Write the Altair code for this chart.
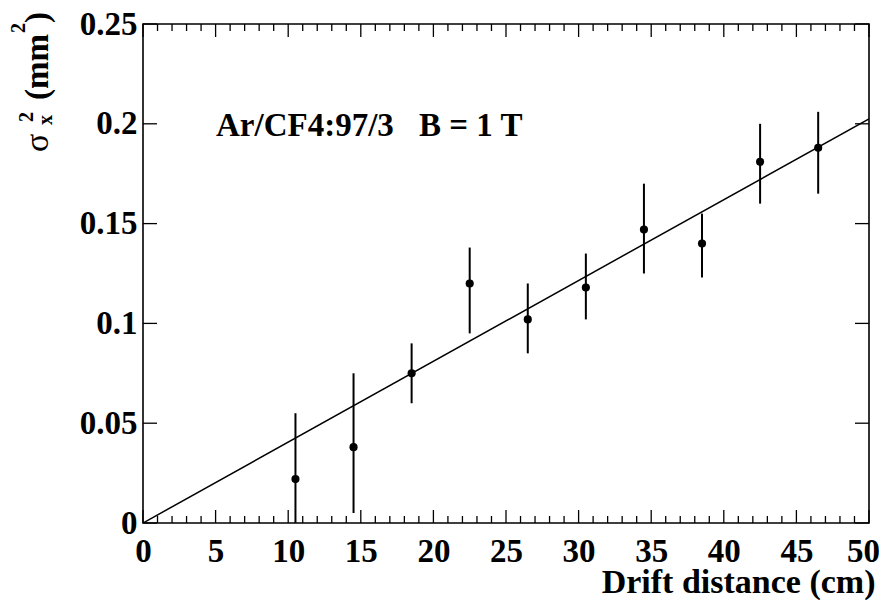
import altair as alt
import pandas as pd

# ---- data ----
drift = [10.5, 14.5, 18.5, 22.5, 26.5, 30.5, 34.5, 38.5, 42.5, 46.5]
sigma2 = [0.022, 0.038, 0.075, 0.120, 0.102, 0.118, 0.147, 0.140, 0.181, 0.188]
sigma2_lo = [-0.011, 0.005, 0.060, 0.095, 0.085, 0.102, 0.125, 0.123, 0.160, 0.165]
sigma2_hi = [0.055, 0.075, 0.090, 0.138, 0.120, 0.135, 0.170, 0.155, 0.200, 0.206]

fit_x = [0, 50]
fit_y = [0.0, 0.2025]

x_major = [0, 5, 10, 15, 20, 25, 30, 35, 40, 45, 50]
x_minor = [1, 2, 3, 4, 6, 7, 8, 9, 11, 12, 13, 14, 16, 17, 18, 19, 21, 22, 23, 24,
           26, 27, 28, 29, 31, 32, 33, 34, 36, 37, 38, 39, 41, 42, 43, 44, 46, 47, 48, 49]
y_major = [0, 0.05, 0.1, 0.15, 0.2, 0.25]

x_title = "Drift distance (cm)"
label_gas = "Ar/CF4:97/3"
label_field = "B = 1 T"

W, H = 726, 499
FONT = "Times New Roman, Liberation Serif, serif"

df = pd.DataFrame({"d": drift, "s": sigma2, "lo": sigma2_lo, "hi": sigma2_hi})
fit_df = pd.DataFrame({"d": fit_x, "s": fit_y})
one = pd.DataFrame({"a": [0]})

xs = alt.Scale(domain=[0, 50], nice=False, zero=False)
ys = alt.Scale(domain=[0, 0.25], nice=False, zero=False)

xaxis = alt.Axis(values=x_major, ticks=False, domain=False, grid=False,
                 labelFont=FONT, labelFontSize=33, labelFontWeight="bold",
                 labelColor="black", labelPadding=12, labelFlush=False,
                 labelOffset={"condition": {"test": "datum.value == 50", "value": -6},
                              "value": 0},
                 title=x_title, titleFont=FONT, titleFontSize=34,
                 titleFontWeight="bold", titleColor="black",
                 titleX=732, titleY=69, titleAlign="right",
                 titleBaseline="alphabetic", titleAnchor="end")
yaxis = alt.Axis(values=y_major, format="~g", ticks=False, domain=False, grid=False,
                 labelFont=FONT, labelFontSize=33, labelFontWeight="bold",
                 labelColor="black", labelPadding=6, labelFlush=False, title=None)


def X(f):
    return alt.X(f, type="quantitative", scale=xs, axis=xaxis)


def Y(f):
    return alt.Y(f, type="quantitative", scale=ys, axis=yaxis)


err = alt.Chart(df).mark_rule(color="black", strokeWidth=2, clip=True).encode(
    x=X("d"), y=Y("lo"), y2="hi")
pts = alt.Chart(df).mark_circle(color="black", opacity=1, size=66).encode(
    x=X("d"), y=Y("s"))
fit = alt.Chart(fit_df).mark_line(color="black", strokeWidth=1.5, clip=True).encode(
    x=X("d"), y=Y("s"))

xmaj = pd.DataFrame({"d": x_major})
xmin = pd.DataFrame({"d": x_minor})
ymaj = pd.DataFrame({"s": y_major})

tick_style = dict(color="black", strokeWidth=1.3)
t_xb = alt.Chart(xmaj).mark_rule(**tick_style).encode(
    x=X("d"), y=alt.value(H), y2=alt.value(H - 13))
t_xt = alt.Chart(xmaj).mark_rule(**tick_style).encode(
    x=X("d"), y=alt.value(0), y2=alt.value(13))
t_xbm = alt.Chart(xmin).mark_rule(**tick_style).encode(
    x=X("d"), y=alt.value(H), y2=alt.value(H - 7))
t_xtm = alt.Chart(xmin).mark_rule(**tick_style).encode(
    x=X("d"), y=alt.value(0), y2=alt.value(7))
t_yl = alt.Chart(ymaj).mark_rule(**tick_style).encode(
    y=Y("s"), x=alt.value(0), x2=alt.value(14))
t_yr = alt.Chart(ymaj).mark_rule(**tick_style).encode(
    y=Y("s"), x=alt.value(W), x2=alt.value(W - 14))


def txt(s, x, y, size, weight="bold", angle=0, align="left"):
    return alt.Chart(one).mark_text(
        text=s, font=FONT, fontSize=size, fontWeight=weight, color="black",
        align=align, baseline="alphabetic", angle=angle
    ).encode(x=alt.value(x), y=alt.value(y))


ann = [
    txt(label_gas, 73, 112, 33),
    txt(label_field, 276, 112, 33),
    # y axis title: sigma_x^2 (mm^2), rotated
    txt("σ", -95.5, 128, 34, weight="normal", angle=270),
    txt("x", -91, 101, 20, angle=270),
    txt("2", -110, 98, 20, angle=270),
    txt("(mm", -95.5, 76, 33, angle=270),
    txt("2", -118, 9, 20, angle=270),
    txt(")", -95.5, -1, 33, angle=270),
]

chart = alt.layer(
    fit, err, pts, t_xb, t_xt, t_xbm, t_xtm, t_yl, t_yr, *ann
).properties(
    width=W, height=H,
    autosize=alt.AutoSizeParams(type="none"),
    padding={"left": 135, "top": 16, "right": 10, "bottom": 78},
    background="white",
).configure_view(
    stroke="black", strokeWidth=1.6
)

chart.save("out.html", embed_options={"renderer": "svg", "actions": False})
